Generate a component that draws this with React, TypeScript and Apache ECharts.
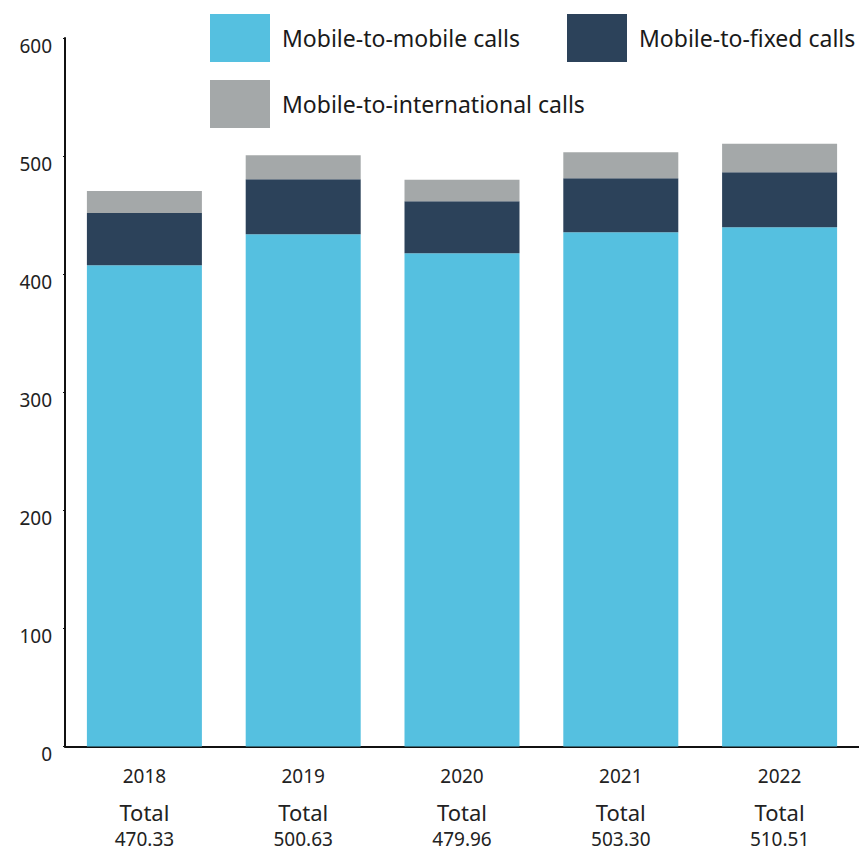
import React, { useEffect, useRef } from "react";
import * as echarts from "echarts";

const years = ["2018", "2019", "2020", "2021", "2022"];
const totalLabels = ["470.33", "500.63", "479.96", "503.30", "510.51"];
const mobileToMobile = [407.6, 433.9, 417.8, 435.6, 439.8];
const mobileToFixed = [44.1, 46.5, 44.0, 45.7, 46.6];
const mobileToIntl = [18.63, 20.23, 18.16, 22.0, 24.11];
const seriesNames = ["Mobile-to-mobile calls", "Mobile-to-fixed calls", "Mobile-to-international calls"];
const colors = ["#55C0E0", "#2C425A", "#A4A8A9"];

const FONT = "Noto Sans";

export default function App() {
  const ref = useRef<HTMLDivElement>(null);
  useEffect(() => {
    if (!ref.current) return;
    const chart = echarts.init(ref.current, undefined, { renderer: "svg" });
    const legendCommon = {
      icon: "rect",
      itemWidth: 60,
      itemHeight: 48,
      padding: 0,
      selectedMode: false,
      textStyle: { fontFamily: FONT, fontSize: 23, color: "#1a1a1a", padding: [0, 0, 0, 7] },
    };
    chart.setOption({
      animation: false,
      backgroundColor: "#ffffff",
      textStyle: { fontFamily: FONT },
      legend: [
        { ...legendCommon, data: [seriesNames[0]], left: 210, top: 14 },
        { ...legendCommon, data: [seriesNames[1]], left: 567, top: 14 },
        { ...legendCommon, data: [seriesNames[2]], left: 210, top: 80 },
      ],
      grid: { left: 65, right: 0, top: 38, bottom: 106.5, containLabel: false },
      xAxis: {
        type: "category",
        data: years,
        axisLine: { show: true, lineStyle: { color: "#111", width: 2 } },
        axisTick: { show: false },
        axisLabel: {
          margin: 11,
          interval: 0,
          formatter: (v: string, i: number) => `{y|${v}}\n{t|Total}\n{v|${totalLabels[i]}}`,
          rich: {
            y: { fontFamily: FONT, fontSize: 19, lineHeight: 36, color: "#222" },
            t: { fontFamily: FONT, fontSize: 22, lineHeight: 36, color: "#222" },
            v: { fontFamily: FONT, fontSize: 19, lineHeight: 18, color: "#222" },
          },
        },
      },
      yAxis: {
        type: "value",
        min: 0,
        max: 600,
        interval: 100,
        axisLine: { show: true, lineStyle: { color: "#111", width: 2 } },
        axisTick: { show: true, length: 2, lineStyle: { color: "#111" } },
        splitLine: { show: false },
        axisLabel: {
          margin: 13,
          fontFamily: FONT,
          fontSize: 19,
          color: "#222",
          verticalAlign: "top",
          lineHeight: 15,
        },
      },
      series: [mobileToMobile, mobileToFixed, mobileToIntl].map((d, i) => ({
        name: seriesNames[i],
        type: "bar",
        stack: "total",
        data: d,
        barWidth: 115,
        itemStyle: { color: colors[i] },
      })),
    });
    return () => chart.dispose();
  }, []);
  return <div ref={ref} style={{ width: 859, height: 853, position: "absolute", left: 0, top: 0 }} />;
}
